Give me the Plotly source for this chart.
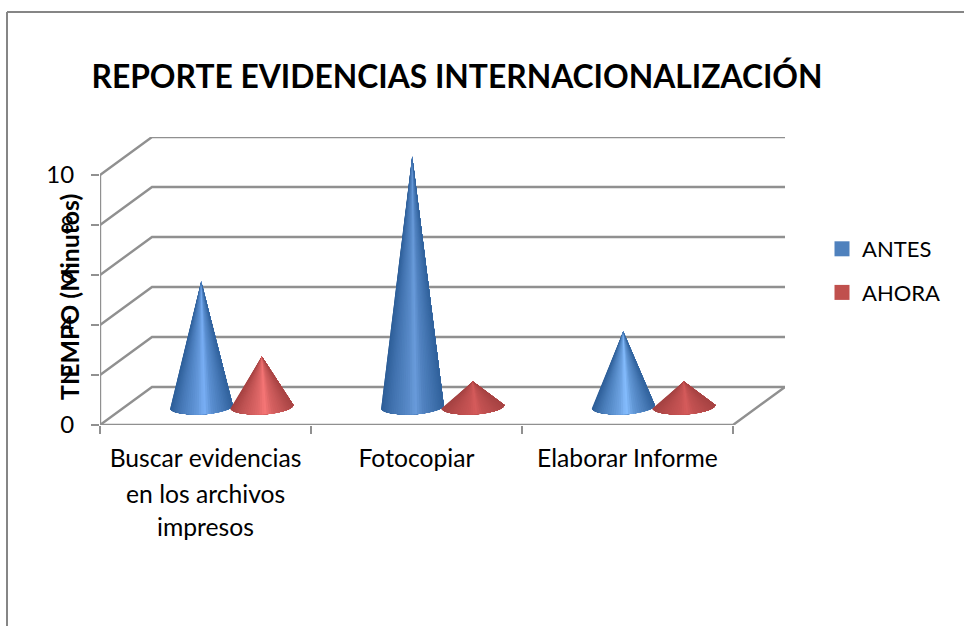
import numpy as np
import plotly.graph_objects as go

# ---------- data ----------
categories = ["Buscar evidencias", "Fotocopiar", "Elaborar Informe"]
wrapped_lines = ["en los archivos", "impresos"]
antes = [5, 10, 3]
ahora = [2, 1, 1]
y_ticks = [0, 2, 4, 6, 8, 10]
title_text = "REPORTE EVIDENCIAS INTERNACIONALIZACIÓN"
y_title = "TIEMPO (Minutos)"

# ---------- geometry / style ----------
W, H = 964, 626
L, R, T, B = 100, 785, 137, 425      # plot box in pixels
CAT_PX = 211.0
DX_PX, DY_PX = 52.0, 38.0            # depth offset of back wall
UNIT_PX = 25.0
dx = DX_PX / CAT_PX
dy = DY_PX / UNIT_PX
GRID = "#909090"
GRID_W = 2.4
FONT = "Lato"
LABEL_SIZE = 24.7

def paper_x(px): return (px - L) / (R - L)
def paper_y(py): return (B - py) / (B - T)

fig = go.Figure()

# walls and gridlines
for v in y_ticks:
    fig.add_trace(go.Scatter(x=[0, dx, 3 + dx], y=[v, v + dy, v + dy], mode="lines",
                             line=dict(color=GRID, width=GRID_W), hoverinfo="skip", showlegend=False))
fig.add_trace(go.Scatter(x=[0, 0], y=[0, y_ticks[-1]], mode="lines",
                         line=dict(color=GRID, width=GRID_W), hoverinfo="skip", showlegend=False))
fig.add_trace(go.Scatter(x=[0, 3, 3 + dx], y=[0, 0, dy], mode="lines",
                         line=dict(color=GRID, width=GRID_W), hoverinfo="skip", showlegend=False))

# cones: each slice paints from its left edge to the far right of the cone,
# so the following slice overlaps it and no seam shows.
stops_u = [-1.0, -0.65, -0.12, 0.1, 0.35, 0.7, 1.0]
stops_s = [0.0, 0.33, 0.72, 1.0, 0.6, 0.32, 0.05]

def hex2rgb(h):
    return np.array([int(h[i:i + 2], 16) for i in (1, 3, 5)], dtype=float)

def cone(center, value, dark, light):
    n = 40
    half_w = 31.5 / CAT_PX
    b = 8.0 / UNIT_PX
    skew = 1.5 / UNIT_PX
    y0 = dy / 2 - 0.02
    apex_y = y0 + value
    th = np.linspace(np.pi, 2 * np.pi, n + 1)
    ax = center + half_w * np.cos(th)
    ay = y0 + b * np.sin(th) + skew * np.cos(th)
    d, l = hex2rgb(dark), hex2rgb(light)
    for i in range(n):
        u = (np.cos(th[i]) + np.cos(th[i + 1])) / 2
        s = np.interp(u, stops_u, stops_s)
        c = d + (l - d) * s
        col = "rgb(%d,%d,%d)" % tuple(c)
        xs = [center] + list(ax[i:]) + [center]
        ys = [apex_y] + list(ay[i:]) + [apex_y]
        fig.add_trace(go.Scatter(x=xs, y=ys, mode="lines", fill="toself", fillcolor=col,
                                 line=dict(color=col, width=0),
                                 hoverinfo="skip", showlegend=False))

blue_dark = "#2d5e98"
red_dark = "#a54242"
blue_light = ["#7ab0f6", "#6a9cdc", "#86beff"]
red_light = ["#f77777", "#d65c5c", "#d65c5c"]
offset = 30.3 / CAT_PX
for i in range(3):
    c = i + 0.5 + dx / 2
    cone(c - offset, antes[i], blue_dark, blue_light[i])
    cone(c + offset, ahora[i], red_dark, red_light[i])

# legend entries
for name, color in [("ANTES", "#4f81bd"), ("AHORA", "#c0504d")]:
    fig.add_trace(go.Scatter(x=[None], y=[None], mode="markers", name=name, legendgroup=name,
                             marker=dict(symbol="square", size=15, color=color)))

# continuation lines of the first category label
annotations = []
for k, line in enumerate(wrapped_lines):
    annotations.append(dict(text=line, x=0.5, xref="x", y=0, yref="y", showarrow=False,
                            xanchor="center", yanchor="middle", yshift=-(493 - 425 + 33.5 * k),
                            font=dict(family=FONT, size=LABEL_SIZE, color="#000000")))
# axis title drawn over the tick labels, as in the source
annotations.append(dict(text="<b>%s</b>" % y_title, textangle=-90, x=paper_x(69), xref="paper",
                        y=paper_y(297), yref="paper", showarrow=False, xanchor="center", yanchor="middle",
                        font=dict(family=FONT, size=24.8, color="#000000")))

shapes = [
    dict(type="line", xref="paper", yref="paper", x0=paper_x(7), x1=paper_x(W), y0=paper_y(12), y1=paper_y(12),
         line=dict(color="#868686", width=2)),
    dict(type="line", xref="paper", yref="paper", x0=paper_x(7), x1=paper_x(7), y0=paper_y(12), y1=paper_y(H),
         line=dict(color="#868686", width=2)),
]

fig.update_layout(
    width=W, height=H,
    margin=dict(l=L, r=W - R, t=T, b=H - B, pad=0),
    paper_bgcolor="white", plot_bgcolor="white",
    title=dict(text="<b>%s</b>" % title_text, x=457 / W, xanchor="center", xref="container",
               y=1 - 77 / H, yanchor="middle", font=dict(family=FONT, size=31.8, color="#000000")),
    xaxis=dict(range=[0, 3 + dx], showgrid=False, zeroline=False, showline=False,
               tickmode="array", tickvals=[0.5, 1.5, 2.5], ticktext=categories, ticks="",
               ticklabelstandoff=16,
               tickangle=0, tickfont=dict(family=FONT, size=LABEL_SIZE, color="#000000"),
               minor=dict(ticks="outside", ticklen=8, tickwidth=2, tickcolor=GRID, tick0=0, dtick=1,
                          showgrid=False)),
    yaxis=dict(range=[0, y_ticks[-1] + dy], showgrid=False, zeroline=False, showline=False,
               tickmode="array", tickvals=y_ticks, ticks="outside", ticklen=8, tickwidth=2,
               ticklabelstandoff=12,
               tickcolor=GRID, tickfont=dict(family=FONT, size=24, color="#000000")),
    legend=dict(x=paper_x(822), xanchor="left", y=paper_y(228), yanchor="top", bgcolor="rgba(0,0,0,0)",
                tracegroupgap=12, font=dict(family=FONT, size=22, color="#000000"),
                itemwidth=30),
    annotations=annotations, shapes=shapes,
)

fig.write_html("out.html", config={"displayModeBar": False},
               post_script="document.body.style.margin='0';document.body.style.overflow='hidden';")
